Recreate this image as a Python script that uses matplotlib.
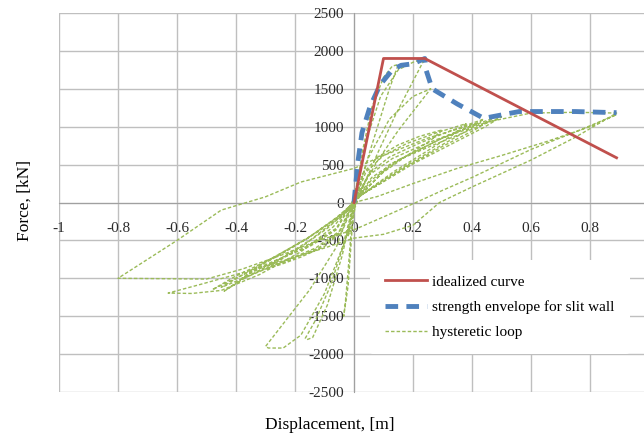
import matplotlib
matplotlib.use("Agg")
import matplotlib.pyplot as plt
import numpy as np

plt.rcParams['font.family'] = ['Liberation Serif', 'DejaVu Serif']
plt.rcParams['axes.unicode_minus'] = False

# ---- data ----
ideal_x = [0.0, 0.10, 0.24, 0.89]
ideal_y = [0, 1900, 1900, 590]

env_x = [0.0, 0.013, 0.027, 0.054, 0.088, 0.13, 0.16, 0.20, 0.24, 0.245, 0.265, 0.35, 0.44, 0.56, 0.75, 0.89]
env_y = [0, 530, 920, 1260, 1550, 1750, 1810, 1830, 1900, 1740, 1500, 1300, 1110, 1200, 1200, 1185]

cyc1_x = [0, 0.01, 0.02, 0.01, 0, -0.01, -0.02, -0.01, 0]
cyc1_y = [0, 250, 450, 250, 0, -250, -450, -250, 0]

cyc2_x = [0, 0.03, 0.06, 0.10, 0.13, 0.15, 0.12, 0.08, 0.04, 0.01, -0.01, -0.02, -0.03, -0.035, -0.02, 0.0]
cyc2_y = [0, 700, 1250, 1650, 1800, 1820, 1500, 1000, 500, 100, -400, -900, -1350, -1500, -1100, 0]

cyc3_x = [0, 0.04, 0.09, 0.15, 0.20, 0.24, 0.20, 0.14, 0.08, 0.03, 0.0, -0.03, -0.08, -0.13, -0.165, -0.16, -0.14, -0.09, -0.04, 0]
cyc3_y = [0, 800, 1400, 1750, 1850, 1900, 1600, 1150, 650, 200, -100, -500, -1100, -1550, -1790, -1810, -1780, -1350, -700, 0]

cyc4_x = [0, 0.05, 0.12, 0.20, 0.26, 0.22, 0.15, 0.08, 0.02, -0.02, -0.06, -0.15, -0.25, -0.30, -0.29, -0.24, -0.18, -0.10, -0.04, 0]
cyc4_y = [0, 600, 1100, 1400, 1500, 1300, 950, 550, 150, -150, -590, -1150, -1650, -1900, -1920, -1920, -1750, -1200, -600, 0]

cyc5_x = [0, 0.03, 0.08, 0.15, 0.22, 0.30, 0.26, 0.18, 0.10, 0.04, 0, -0.04, -0.10, -0.18, -0.25, -0.30, -0.25, -0.17, -0.09, -0.03, 0]
cyc5_y = [0, 380, 600, 760, 870, 960, 820, 620, 400, 180, 0, -380, -580, -720, -820, -880, -760, -560, -340, -130, 0]

cyc6_x = [0, 0.04, 0.10, 0.18, 0.28, 0.38, 0.33, 0.24, 0.14, 0.06, 0, -0.05, -0.12, -0.22, -0.31, -0.38, -0.32, -0.22, -0.12, -0.04, 0]
cyc6_y = [0, 400, 620, 780, 920, 1040, 880, 660, 420, 200, 20, -400, -600, -760, -890, -1000, -840, -620, -380, -150, 0]

cyc7_x = [0, 0.05, 0.12, 0.22, 0.33, 0.44, 0.38, 0.28, 0.17, 0.07, 0, -0.05, -0.13, -0.24, -0.35, -0.45, -0.38, -0.27, -0.15, -0.05, 0]
cyc7_y = [0, 380, 600, 780, 950, 1100, 940, 720, 470, 220, 30, -380, -600, -780, -960, -1120, -960, -720, -450, -180, 0]

cyc8_x = [0, 0.05, 0.13, 0.24, 0.36, 0.47, 0.41, 0.30, 0.18, 0.08, 0, -0.06, -0.15, -0.27, -0.38, -0.48, -0.41, -0.29, -0.16, -0.06, 0]
cyc8_y = [0, 360, 580, 770, 950, 1110, 960, 740, 480, 230, 40, -360, -580, -770, -960, -1150, -990, -760, -480, -200, 0]

cyc9_x = [0, 0.06, 0.15, 0.27, 0.39, 0.50, 0.44, 0.33, 0.20, 0.09, 0, -0.06, -0.15, -0.26, -0.36, -0.44, -0.38, -0.27, -0.15, -0.05, 0]
cyc9_y = [0, 330, 560, 760, 950, 1130, 990, 770, 510, 250, 50, -340, -560, -760, -950, -1170, -1020, -790, -500, -200, 0]

cyc10_x = [0, 0.06, 0.16, 0.30, 0.45, 0.60, 0.75, 0.89, 0.75, 0.60, 0.40, 0.29, 0.20, 0.10, 0, -0.10, -0.25, -0.40, -0.52, -0.63, -0.55, -0.45, -0.32, -0.18, -0.07, 0]
cyc10_y = [0, 300, 580, 850, 1060, 1180, 1190, 1180, 860, 560, 205, 0, -300, -420, -470, -600, -780, -950, -1080, -1195, -1200, -1160, -950, -650, -320, 0]

cyc11_x = [0, 0.12, 0.30, 0.42, 0.25, 0.10, 0, -0.18, -0.30, -0.45, -0.60, -0.80, -0.65, -0.50, -0.38, -0.25, -0.12, 0, 0.10, 0.21, 0.30, 0.40, 0.60, 0.75, 0.89, 0.80, 0.65, 0.50, 0.35, 0.20, 0.08, 0]
cyc11_y = [0, 500, 850, 1050, 850, 620, 450, 270, 75, -100, -500, -1000, -1005, -1010, -880, -700, -500, -360, -190, 0, 160, 330, 700, 930, 1160, 1000, 800, 620, 450, 250, 80, 0]

x_ticks = [-1, -0.8, -0.6, -0.4, -0.2, 0, 0.2, 0.4, 0.6, 0.8, 1]
x_labels = ['-1', '-0.8', '-0.6', '-0.4', '-0.2', '0', '0.2', '0.4', '0.6', '0.8', '']
y_ticks = [-2500, -2000, -1500, -1000, -500, 0, 500, 1000, 1500, 2000, 2500]
y_labels = ['-2500', '-2000', '-1500', '-1000', '-500', '0', '500', '1000', '1500', '2000', '2500']

hyst_x = cyc1_x + cyc2_x + cyc3_x + cyc4_x + cyc5_x + cyc6_x + cyc7_x + cyc8_x + cyc9_x + cyc10_x + cyc11_x
hyst_y = cyc1_y + cyc2_y + cyc3_y + cyc4_y + cyc5_y + cyc6_y + cyc7_y + cyc8_y + cyc9_y + cyc10_y + cyc11_y

# ---- figure ----
W, H = 644, 437
fig = plt.figure(figsize=(W / 100, H / 100), dpi=100)
ax = fig.add_axes([59 / W, 45 / H, 590 / W, 379 / H])
ax.set_xlim(-1, 1)
ax.set_ylim(-2500, 2500)

ax.set_xticks(x_ticks)
ax.set_xticklabels(x_labels)
ax.set_yticks(y_ticks)
ax.set_yticklabels(y_labels)
ax.grid(True, color='#BFBFBF', linewidth=1.0)

for s in ['top', 'right']:
    ax.spines[s].set_visible(False)
ax.spines['left'].set_position(('data', 0))
ax.spines['bottom'].set_position(('data', 0))
ax.spines['left'].set_color('#A0A0A0')
ax.spines['bottom'].set_color('#A0A0A0')

ax.tick_params(axis='x', length=0, pad=14, labelsize=11)
ax.tick_params(axis='y', length=0, pad=7, labelsize=11)
for lbl in ax.get_xticklabels() + ax.get_yticklabels():
    lbl.set_color('#2a2a2a')

ax.plot(hyst_x, hyst_y, color='#9BBB59', linewidth=1.0, linestyle=(0, (2.5, 1.5)),
        label='hysteretic loop', zorder=3)
ax.plot(env_x, env_y, color='#4F81BD', linewidth=3.5, linestyle=(0, (2.6, 1.7)),
        label='strength envelope for slit wall', zorder=4)
ax.plot(ideal_x, ideal_y, color='#C0504D', linewidth=2.0, label='idealized curve', zorder=5)

handles, labels = ax.get_legend_handles_labels()
order = [2, 1, 0]
leg = ax.legend([handles[i] for i in order], [labels[i] for i in order],
                loc='center left', bbox_to_anchor=(370 / W, 1 - 307 / H),
                bbox_transform=fig.transFigure, fontsize=11, frameon=True,
                facecolor='white', edgecolor='none', framealpha=1.0,
                borderpad=1.0, labelspacing=0.75, handlelength=2.7, handletextpad=0.35,
                borderaxespad=0)
leg.set_zorder(10)

fig.text(330 / W, 1 - 425 / H, 'Displacement, [m]', ha='center', va='center', fontsize=12.5)
fig.text(25 / W, 1 - 200 / H, 'Force, [kN]', ha='center', va='center', rotation=90, fontsize=12.5)

fig.savefig('out.png', dpi=100)
